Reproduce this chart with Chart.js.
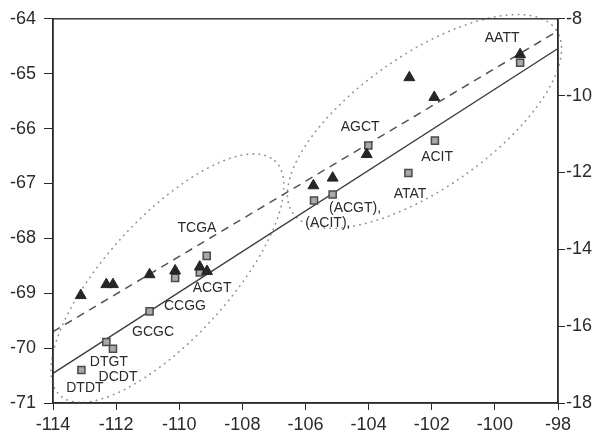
<!DOCTYPE html>
<html>
<head>
<meta charset="utf-8">
<script src="https://cdn.jsdelivr.net/npm/chart.js@4/dist/chart.umd.min.js"></script>
<style>
html,body{margin:0;padding:0;background:#fff;}
#wrap{position:relative;width:601px;height:437px;}
</style>
</head>
<body>
<div id="wrap"><canvas id="c" width="601" height="437"></canvas></div>
<script>
// ---- data ----
const xTicks = [-114, -112, -110, -108, -106, -104, -102, -100, -98];
const yLeftTicks = [-71, -70, -69, -68, -67, -66, -65, -64];
const yRightTicks = [-18, -16, -14, -12, -10, -8];

const triX = [-113.12, -112.31, -112.10, -110.94, -110.13, -109.35, -109.12, -105.75, -105.14, -104.06, -102.71, -101.92, -99.20];
const triY = [-69.04, -68.84, -68.84, -68.66, -68.59, -68.52, -68.60, -67.04, -66.90, -66.47, -65.07, -65.43, -64.65];

const sqX = [-113.10, -112.31, -112.10, -110.94, -110.13, -109.35, -109.13, -105.73, -105.14, -104.01, -102.74, -101.90, -99.20];
const sqY = [-70.40, -69.89, -70.01, -69.33, -68.72, -68.62, -68.32, -67.31, -67.20, -66.31, -66.81, -66.22, -64.80];

const solidX = [-114, -98];
const solidY = [-70.46, -64.54];
const dashX = [-114, -98];
const dashY = [-69.70, -64.22];

// group outlines: ends of the long axis (data units)
const ellipseEnds = [
  [[-113.78, -70.86], [-106.97, -66.59]],
  [[-106.40, -67.54], [-98.06, -64.20]]
];

const labelText = ['TCGA', 'ACGT', 'CCGG', 'GCGC', 'DTGT', 'DCDT', 'DTDT', 'AGCT', 'ACIT', 'ATAT', '(ACGT),', '(ACIT),', 'AATT'];
const labelX = [-109.44, -108.96, -109.82, -110.83, -112.23, -111.94, -112.99, -104.27, -101.83, -102.69, -104.43, -105.29, -99.77];
const labelY = [-67.81, -68.90, -69.24, -69.70, -70.26, -70.53, -70.73, -65.98, -66.52, -67.19, -67.45, -67.72, -64.36];

// ---- styles ----
const INK = '#2a2a2a';
const FONT = '"Liberation Sans", Arial, Helvetica, sans-serif';
const ellipseMinor = [61, 67];

const pts = (xs, ys) => xs.map((x, i) => ({x: x, y: ys[i]}));

const decor = {
  id: 'decor',
  beforeDatasetsDraw(chart) {
    const ctx = chart.ctx, xs = chart.scales.x, ys = chart.scales.y;
    ctx.save();
    ctx.strokeStyle = '#8f8f8f';
    ctx.lineWidth = 1.6;
    ctx.lineCap = 'round';
    ctx.setLineDash([0.5, 5.5]);
    ellipseEnds.forEach((e, i) => {
      const x1 = xs.getPixelForValue(e[0][0]), y1 = ys.getPixelForValue(e[0][1]);
      const x2 = xs.getPixelForValue(e[1][0]), y2 = ys.getPixelForValue(e[1][1]);
      const cx = (x1 + x2) / 2, cy = (y1 + y2) / 2;
      const a = Math.hypot(x2 - x1, y2 - y1) / 2;
      const rot = Math.atan2(y2 - y1, x2 - x1);
      ctx.beginPath();
      ctx.ellipse(cx, cy, a, ellipseMinor[i], rot, 0, Math.PI * 2);
      ctx.stroke();
    });
    ctx.restore();
  },
  afterDatasetsDraw(chart) {
    const ctx = chart.ctx, xs = chart.scales.x, ys = chart.scales.y, a = chart.chartArea;
    ctx.save();
    ctx.fillStyle = INK;
    ctx.font = '14px ' + FONT;
    ctx.textAlign = 'center';
    ctx.textBaseline = 'middle';
    labelText.forEach((t, i) => {
      ctx.fillText(t, xs.getPixelForValue(labelX[i]), ys.getPixelForValue(labelY[i]));
    });
    ctx.strokeStyle = INK;
    ctx.lineWidth = 1.4;
    ctx.setLineDash([]);
    ctx.strokeRect(a.left, a.top, a.right - a.left, a.bottom - a.top);
    ctx.restore();
  }
};

const tickFont = {family: FONT, size: 18};

new Chart(document.getElementById('c'), {
  type: 'scatter',
  data: {
    datasets: [
      {
        label: 'triangles',
        data: pts(triX, triY),
        pointStyle: 'triangle',
        pointRadius: 6.3,
        backgroundColor: '#262626',
        borderColor: '#262626',
        borderWidth: 1,
        yAxisID: 'y'
      },
      {
        label: 'squares',
        data: pts(sqX, sqY),
        pointStyle: 'rect',
        pointRadius: 5,
        backgroundColor: '#a8a8a8',
        borderColor: '#4a4a4a',
        borderWidth: 1.5,
        yAxisID: 'y'
      },
      {
        label: 'fit solid',
        data: pts(solidX, solidY),
        showLine: true,
        pointRadius: 0,
        borderColor: '#3a3a3a',
        borderWidth: 1.3,
        yAxisID: 'y'
      },
      {
        label: 'fit dashed',
        data: pts(dashX, dashY),
        showLine: true,
        pointRadius: 0,
        borderColor: '#555',
        borderWidth: 1.5,
        borderDash: [8, 6],
        yAxisID: 'y'
      }
    ]
  },
  options: {
    responsive: false,
    animation: false,
    devicePixelRatio: 1,
    layout: {padding: {top: 17, left: 0, right: 0, bottom: 0}},
    plugins: {legend: {display: false}, tooltip: {enabled: false}},
    scales: {
      x: {
        type: 'linear',
        min: -114, max: -98,
        afterBuildTicks: s => { s.ticks = xTicks.map(v => ({value: v})); },
        afterFit: s => { s.height = 34; },
        grid: {drawOnChartArea: false, drawTicks: true, tickLength: 7, color: INK, lineWidth: 1},
        border: {display: true, color: INK, width: 1.4},
        ticks: {color: INK, font: tickFont, padding: 4, maxRotation: 0, autoSkip: false}
      },
      y: {
        type: 'linear',
        position: 'left',
        min: -71, max: -64,
        afterBuildTicks: s => { s.ticks = yLeftTicks.map(v => ({value: v})); },
        afterFit: s => { s.width = 53; },
        grid: {drawOnChartArea: false, drawTicks: true, tickLength: 9, color: INK, lineWidth: 1},
        border: {display: true, color: INK, width: 1.4},
        ticks: {color: INK, font: tickFont, padding: 8, autoSkip: false}
      },
      y2: {
        type: 'linear',
        position: 'right',
        min: -18, max: -8,
        afterBuildTicks: s => { s.ticks = yRightTicks.map(v => ({value: v})); },
        afterFit: s => { s.width = 43; },
        grid: {drawOnChartArea: false, drawTicks: true, tickLength: 7, color: INK, lineWidth: 1},
        border: {display: true, color: INK, width: 1.4},
        ticks: {color: INK, font: tickFont, padding: 1, autoSkip: false}
      }
    }
  },
  plugins: [decor]
});
</script>
</body>
</html>
